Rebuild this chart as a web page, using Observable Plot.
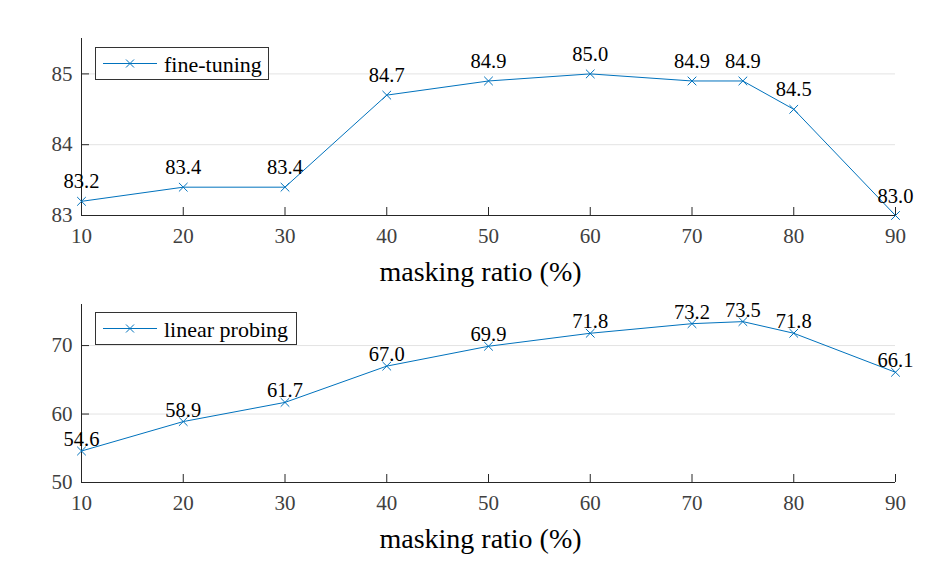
<!DOCTYPE html>
<html><head><meta charset="utf-8">
<script src="https://cdn.jsdelivr.net/npm/d3@7"></script>
<script src="https://cdn.jsdelivr.net/npm/@observablehq/plot@0.6"></script>
<style>
body{margin:0;background:#fff;}
#wrap{position:relative;width:941px;height:565px;background:#fff;font-family:'Liberation Serif',serif;}
#wrap svg{display:block;overflow:visible;}
.legend{position:absolute;border:1px solid #333;background:#fff;box-sizing:border-box;font-size:22px;color:#000;font-family:'Liberation Serif',serif;}
.legend svg{position:absolute;left:0;top:0;}
.legend span{position:absolute;white-space:nowrap;}
</style></head><body><div id="wrap"></div>
<script>
const ratios = [10, 20, 30, 40, 50, 60, 70, 75, 80, 90];
const fineTuning = [83.2, 83.4, 83.4, 84.7, 84.9, 85.0, 84.9, 84.9, 84.5, 83.0];
const linearProbing = [54.6, 58.9, 61.7, 67.0, 69.9, 71.8, 73.2, 73.5, 71.8, 66.1];
const xTicks = [10, 20, 30, 40, 50, 60, 70, 80, 90];
const ftTicks = [83, 84, 85];
const lpTicks = [50, 60, 70];
const ftDomain = [83, 85.5];
const lpDomain = [50, 76];
const xLabel = "masking ratio (%)";

const BLUE = "#0072BD";
const FONT = "'Liberation Serif', serif";
const wrap = document.getElementById("wrap");

function panel(values, domain, ticks, height, marginTop, marginBottom, labelDy) {
  const data = ratios.map((r, i) => ({x: r, y: values[i]}));
  return Plot.plot({
    width: 941, height, marginLeft: 81, marginRight: 46, marginTop, marginBottom,
    style: {fontFamily: FONT, fontSize: "21px", background: "transparent", overflow: "visible"},
    x: {domain: [10, 90]},
    y: {domain},
    marks: [
      Plot.gridY(ticks, {stroke: "#e3e3e3", strokeOpacity: 1}),
      Plot.ruleY([domain[0]], {stroke: "#262626"}),
      Plot.ruleX([10], {stroke: "#262626"}),
      Plot.axisX(xTicks, {tickSize: -8, tickPadding: 21, stroke: "#262626", fill: "#404040", label: null, fontSize: 21, tickFormat: d3.format("d")}),
      Plot.axisY(ticks, {tickSize: -8, tickPadding: 17, stroke: "#262626", fill: "#404040", label: null, fontSize: 21, tickFormat: d3.format("d")}),
      Plot.text([xLabel], {frameAnchor: "bottom", text: d => d, dx: -8, dy: 65, lineAnchor: "bottom", fontSize: 28, fill: "#000"}),
      Plot.line(data, {x: "x", y: "y", stroke: BLUE, strokeWidth: 1}),
      Plot.dot(data, {x: "x", y: "y", symbol: "times", r: 4, stroke: BLUE, strokeWidth: 1}),
      Plot.text(data, {x: "x", y: "y", text: d => d.y.toFixed(1), dy: labelDy, lineAnchor: "bottom", fontSize: 20.5, fill: "#000"})
    ]
  });
}

function legend(label, left, top, w, h) {
  const div = document.createElement("div");
  div.className = "legend";
  div.style.left = left + "px"; div.style.top = top + "px";
  div.style.width = w + "px"; div.style.height = h + "px";
  const cy = h / 2 - 1;
  div.innerHTML = `<svg width="${w}" height="${h}"><line x1="7" x2="61" y1="${cy}" y2="${cy}" stroke="${BLUE}" stroke-width="1"/>` +
    `<path d="M${34-4},${cy-4}L${34+4},${cy+4}M${34-4},${cy+4}L${34+4},${cy-4}" stroke="${BLUE}" stroke-width="1"/></svg>` +
    `<span style="left:68px;top:${cy - 11}px;line-height:24px">${label}</span>`;
  wrap.appendChild(div);
}

wrap.appendChild(panel(fineTuning, ftDomain, ftTicks, 283, 38, 68, -13));
wrap.appendChild(panel(linearProbing, lpDomain, lpTicks, 282, 21, 83, -5));
legend("fine-tuning", 95, 47, 174, 33);
legend("linear probing", 95, 312, 202, 33);
</script></body></html>
